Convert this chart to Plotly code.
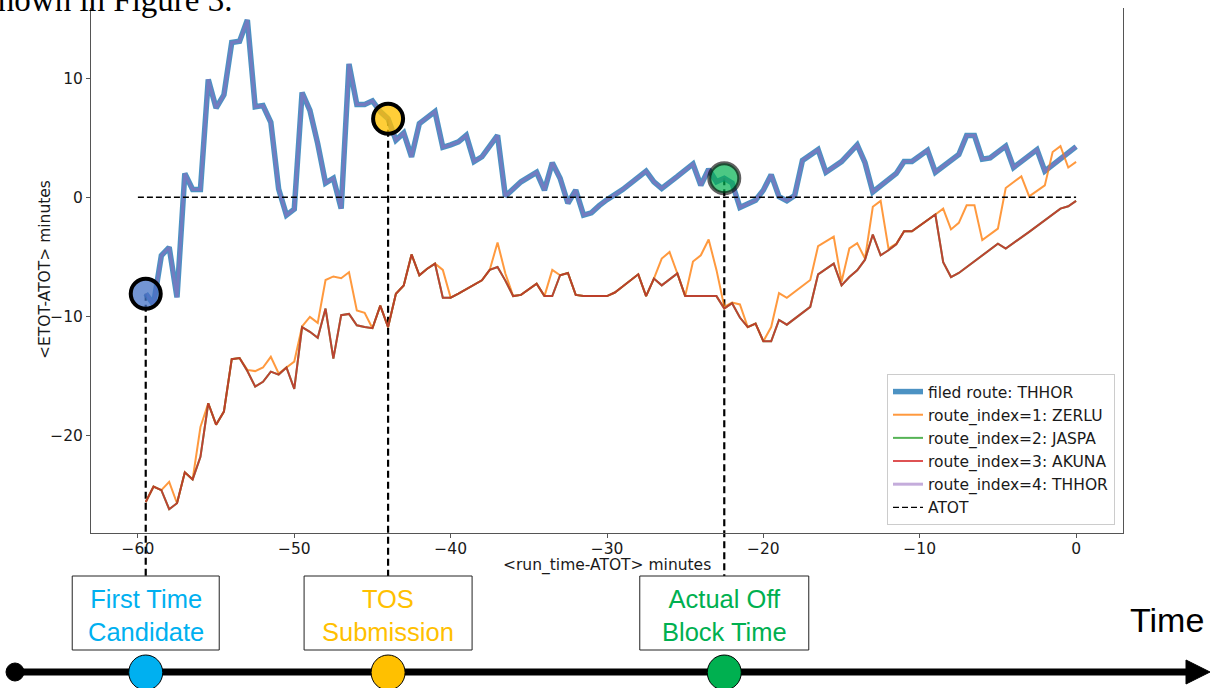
import plotly.graph_objects as go

# ---------------------------------------------------------------------------
# ETOT - ATOT (minutes) as a function of run time relative to ATOT (minutes)
# ---------------------------------------------------------------------------

# filed route THHOR
filed_t = [-59.5, -59, -58.5, -58, -57.5, -57, -56.5, -56, -55.5, -55, -54.5, -54,
           -53.5, -53, -52.5, -52, -51.5, -51, -50.5, -50, -49.5, -49, -48.5, -48,
           -47.5, -47, -46.5, -46, -45.5, -45, -44.5, -44, -43.5, -43, -42.5, -42,
           -41, -40.5, -40, -39.5, -39, -38.5, -38, -37, -36.5, -35.5, -34.5, -34,
           -33.5, -33, -32.5, -32, -31.5, -31, -30.5, -30, -29, -27.5, -27, -26.5,
           -25.5, -24.5, -24, -23.5, -23, -22.5, -22, -21.5, -20.5, -20, -19.5, -19,
           -18.5, -18, -17.5, -16.5, -16, -15, -14, -13.5, -13, -11.5, -11, -10.5,
           -9.5, -9, -7.5, -7, -6.5, -6, -5.5, -4.5, -4, -2.5, -2, 0]
filed_v = [-8.1, -9.0, -4.9, -4.2, -8.4, 2.0, 0.65, 0.65, 9.9, 7.5, 8.6, 13.0,
           13.1, 14.9, 7.6, 7.7, 6.3, 0.7, -1.5, -1.0, 8.8, 7.3, 4.5, 1.2,
           1.6, -0.95, 11.2, 7.8, 7.8, 8.1, 7.2, 6.6, 4.8, 5.4, 3.4, 6.2,
           7.2, 4.2, 4.4, 4.65, 5.2, 3.0, 3.4, 5.2, 0.1, 1.3, 2.1, 0.6,
           2.9, 1.6, -0.5, 0.6, -1.5, -1.3, -0.7, -0.2, 0.65, 2.2, 1.3, 0.75,
           1.75, 2.8, 1.0, 2.35, 1.3, 1.6, 1.2, -0.85, -0.25, 0.6, 1.9, 0.05,
           -0.3, 0.15, 3.1, 4.0, 2.1, 3.0, 4.4, 2.9, 0.45, 2.0, 3.0, 3.0,
           3.95, 2.1, 3.6, 5.2, 5.2, 3.2, 3.3, 4.3, 2.5, 4.0, 2.2, 4.25]

# route_index=1: ZERLU
zerlu_t = [-59.5, -59, -58.5, -58, -57.5, -57, -56.5, -56, -55.5, -55, -54.5, -54,
           -53.5, -53, -52.5, -52, -51.5, -51, -50.5, -50, -49.5, -49, -48.5, -48,
           -47.5, -47, -46.5, -46, -45.5, -45, -44.5, -44, -43.5, -43, -42.5, -42,
           -41.5, -41, -40.5, -40, -39.5, -39, -38.5, -38, -37.5, -37, -36.5, -36,
           -35.5, -35, -34.5, -34, -33.5, -33, -32.5, -32, -31.5, -30, -29.5, -29,
           -28.5, -28, -27.5, -27, -26.5, -26, -25.5, -25, -24.5, -24, -23.5, -23,
           -22.5, -22, -21.5, -21, -20.5, -20, -19.5, -19, -18.5, -17, -16.5, -15.5,
           -15, -14.5, -14, -13.5, -13, -12.5, -12, -11.5, -11, -10.5, -9, -8.5,
           -8, -7.5, -7, -6.5, -6, -5, -4.5, -3.5, -3, -2, -1.5, -1,
           -0.5, 0]
zerlu_v = [-25.6, -24.3, -24.6, -23.9, -25.7, -23.1, -23.7, -19.3, -17.3, -19.1, -18.0, -13.6,
           -13.5, -14.5, -14.6, -14.3, -13.4, -14.8, -14.3, -13.8, -10.85, -10.05, -10.55, -6.95,
           -6.65, -6.8, -6.3, -9.5, -9.7, -11.0, -9.1, -10.9, -8.1, -7.4, -4.8, -6.55,
           -6.0, -5.57, -6.1, -8.43, -8.1, -7.7, -7.35, -6.97, -6.1, -3.8, -6.4, -8.3,
           -8.2, -7.7, -7.25, -8.3, -6.1, -6.55, -6.36, -8.2, -8.3, -8.3, -8.0, -7.5,
           -7.0, -6.47, -8.3, -6.83, -5.15, -4.6, -6.4, -8.3, -5.4, -4.87, -3.55, -6.1,
           -9.2, -8.85, -9.0, -10.9, -10.6, -12.1, -10.9, -8.05, -8.45, -6.95, -4.1, -3.3,
           -7.1, -4.3, -3.85, -5.15, -0.8, -0.3, -4.3, -3.9, -2.86, -2.86, -1.45, -0.95,
           -2.7, -2.15, -0.67, -0.67, -3.6, -2.63, 0.78, 1.76, 0.08, 1.0, 3.8, 4.3,
           2.5, 2.97]

# route_index=3: AKUNA
akuna_t = [-59.5, -59, -58.5, -58, -57.5, -57, -56.5, -56, -55.5, -55, -54.5, -54,
           -53.5, -53, -52.5, -52, -51.5, -51, -50.5, -50, -49.5, -49, -48.5, -48,
           -47.5, -47, -46.5, -46, -45.5, -45, -44.5, -44, -43.5, -43, -42.5, -42,
           -41.5, -41, -40.5, -40, -39.5, -39, -38.5, -38, -37.5, -37, -36.5, -36,
           -35.5, -35, -34.5, -34, -33.5, -33, -32.5, -32, -31.5, -30, -29.5, -29,
           -28.5, -28, -27.5, -27, -26.5, -25.5, -25, -23, -22.5, -22, -21.5, -21,
           -20.5, -20, -19.5, -19, -18.5, -17, -16.5, -15.5, -15, -14.5, -14, -13.5,
           -13, -12.5, -12, -11.5, -11, -10.5, -9, -8.5, -8, -7.5, -5, -4.5,
           -3, -2, -1, -0.5, 0]
akuna_v = [-25.6, -24.3, -24.6, -26.2, -25.7, -23.1, -23.7, -21.8, -17.3, -19.1, -18.0, -13.6,
           -13.5, -14.6, -15.9, -15.5, -14.65, -14.9, -14.3, -16.1, -10.9, -11.3, -11.8, -9.35,
           -13.55, -9.9, -9.8, -10.75, -10.9, -11.0, -9.1, -10.9, -8.1, -7.4, -4.8, -6.55,
           -6.0, -5.57, -8.43, -8.43, -8.1, -7.7, -7.35, -6.97, -6.1, -5.86, -7.0, -8.3,
           -8.2, -7.7, -7.25, -8.3, -8.3, -6.55, -6.36, -8.2, -8.3, -8.3, -8.0, -7.5,
           -7.0, -6.47, -8.3, -6.83, -7.4, -6.4, -8.3, -8.3, -9.35, -8.9, -10.1, -10.9,
           -10.6, -12.1, -12.1, -10.3, -10.7, -9.2, -6.47, -5.57, -7.4, -6.7, -6.13, -5.24,
           -3.13, -4.87, -4.45, -3.95, -2.86, -2.86, -1.45, -5.45, -6.7, -6.36, -3.9, -4.3,
           -2.9, -1.93, -0.95, -0.76, -0.3]

# route_index=2: JASPA gives the same estimates as AKUNA
jaspa_t = list(akuna_t)
jaspa_v = list(akuna_v)

# route_index=4: THHOR is the filed route
thhor_t = list(filed_t)
thhor_v = list(filed_v)

# ATOT reference
atot_t = [-60, 0]
atot_v = [0, 0]

# milestones along the filed-route curve
event_labels = ["First Time<br>Candidate", "TOS<br>Submission", "Actual Off<br>Block Time"]
event_t = [-59.5, -44.0, -22.5]
event_v = [filed_v[filed_t.index(t)] for t in event_t]
event_fill = ["rgba(68,114,196,0.75)", "rgba(255,192,0,0.78)", "rgba(0,176,80,0.7)"]
event_edge = ["black", "black", "rgba(0,0,0,0.62)"]
event_colors = ["#00B0F0", "#FFC000", "#00B050"]

# ---------------------------------------------------------------------------
W, H = 1211, 688
ML, MR, MT, MB = 91, 88, 8, 155
PW, PH = W - ML - MR, H - MT - MB
XR = [-63, 3]
YR = [-28.2, 15.9]


def xp(t):
    """data x -> paper x"""
    return (t - XR[0]) / (XR[1] - XR[0])


def yp(v):
    """data y -> paper y"""
    return (v - YR[0]) / (YR[1] - YR[0])


def px(dx):
    """pixel column -> paper x"""
    return (dx - ML) / PW


def py(dy):
    """pixel row -> paper y"""
    return (H - MB - dy) / PH


fig = go.Figure()

fig.add_trace(go.Scatter(x=filed_t, y=filed_v, mode="lines", name="filed route: THHOR",
                         line=dict(color="rgba(31,119,180,0.8)", width=5.5)))
fig.add_trace(go.Scatter(x=zerlu_t, y=zerlu_v, mode="lines", name="route_index=1: ZERLU",
                         line=dict(color="rgba(255,127,14,0.8)", width=2)))
fig.add_trace(go.Scatter(x=jaspa_t, y=jaspa_v, mode="lines", name="route_index=2: JASPA",
                         line=dict(color="rgba(44,160,44,0.8)", width=2)))
fig.add_trace(go.Scatter(x=akuna_t, y=akuna_v, mode="lines", name="route_index=3: AKUNA",
                         line=dict(color="rgba(214,39,40,0.8)", width=2)))
fig.add_trace(go.Scatter(x=thhor_t, y=thhor_v, mode="lines", name="route_index=4: THHOR",
                         line=dict(color="rgba(148,103,189,0.55)", width=3)))
fig.add_trace(go.Scatter(x=atot_t, y=atot_v, mode="lines", name="ATOT",
                         line=dict(color="black", width=1.4, dash="6px,3px")))
fig.add_trace(go.Scatter(x=event_t, y=event_v, mode="markers", showlegend=False,
                         marker=dict(size=30, color=event_fill,
                                     line=dict(color=event_edge, width=4))))

shapes = []
annotations = []

BOX_TOP, BOX_BOT = 576, 650
TL_Y = 672
box_half = [73.5, 84, 84.5]

for lab, t, v, col, hw in zip(event_labels, event_t, event_v, event_colors, box_half):
    # drop line from the curve to the label box
    shapes.append(dict(type="line", xref="paper", yref="paper", layer="below",
                       x0=xp(t), x1=xp(t), y0=yp(v), y1=py(BOX_TOP),
                       line=dict(color="black", width=2.2, dash="7px,4px")))
    # label box
    shapes.append(dict(type="rect", xref="paper", yref="paper",
                       x0=xp(t) - hw / PW, x1=xp(t) + hw / PW,
                       y0=py(BOX_BOT), y1=py(BOX_TOP),
                       line=dict(color="#222222", width=1), fillcolor="white"))
    annotations.append(dict(xref="paper", yref="paper", x=xp(t), y=py((BOX_TOP + BOX_BOT) / 2 + 2),
                            text=lab, showarrow=False, xanchor="center", yanchor="middle",
                            font=dict(family="Liberation Sans", size=25.5, color=col)))

# timeline axis with arrow head
shapes.append(dict(type="line", xref="paper", yref="paper",
                   x0=px(15), x1=px(1192), y0=py(TL_Y), y1=py(TL_Y),
                   line=dict(color="black", width=7)))
arrow = "M {a},{b} L {c},{d} L {a},{e} Z".format(
    a=px(1186), b=py(TL_Y - 12), c=px(1210), d=py(TL_Y), e=py(TL_Y + 12))
shapes.append(dict(type="path", xref="paper", yref="paper", path=arrow,
                   fillcolor="black", line=dict(color="black", width=1)))
shapes.append(dict(type="circle", xref="paper", yref="paper",
                   x0=px(6), x1=px(24), y0=py(TL_Y + 9), y1=py(TL_Y - 9),
                   fillcolor="black", line=dict(color="black", width=1)))
for t, col in zip(event_t, event_colors):
    shapes.append(dict(type="circle", xref="paper", yref="paper",
                       x0=xp(t) - 17 / PW, x1=xp(t) + 17 / PW,
                       y0=py(TL_Y + 18), y1=py(TL_Y - 17),
                       fillcolor=col, line=dict(color="black", width=1)))

annotations.append(dict(xref="paper", yref="paper", x=px(1167), y=py(620),
                        text="Time", showarrow=False, xanchor="center", yanchor="middle",
                        font=dict(family="Liberation Sans", size=34, color="black")))

# running text of the surrounding page
annotations.append(dict(xref="paper", yref="paper", x=px(-17), y=py(0),
                        text="shown in Figure 3.", showarrow=False,
                        xanchor="left", yanchor="middle",
                        font=dict(family="Liberation Serif", size=33, color="black")))

axis_font = dict(family="DejaVu Sans", size=15.5, color="#1a1a1a")

# axis titles
annotations.append(dict(xref="paper", yref="paper", x=0.5, y=py(565),
                        text="&lt;run_time-ATOT&gt; minutes", showarrow=False,
                        xanchor="center", yanchor="middle", font=axis_font))
annotations.append(dict(xref="paper", yref="paper", x=px(45), y=py(270),
                        text="&lt;ETOT-ATOT&gt; minutes", showarrow=False, textangle=-90,
                        xanchor="center", yanchor="middle", font=axis_font))

fig.update_layout(
    width=W, height=H,
    margin=dict(l=ML, r=MR, t=MT, b=MB),
    paper_bgcolor="white", plot_bgcolor="white",
    showlegend=True,
    legend=dict(x=px(1115), y=py(525), xanchor="right", yanchor="bottom",
                bgcolor="white", bordercolor="#cccccc", borderwidth=1,
                font=dict(family="DejaVu Sans", size=15.5, color="#1a1a1a"),
                itemwidth=30, tracegroupgap=0),
    shapes=shapes,
    annotations=annotations,
    xaxis=dict(range=XR, tickmode="array", tickvals=[-60, -50, -40, -30, -20, -10, 0],
               showgrid=False, zeroline=False, showline=True, linecolor="#555555",
               linewidth=1, mirror=False, ticks="outside", ticklen=4, tickcolor="#555555",
               ticklabelstandoff=-3, tickfont=axis_font),
    yaxis=dict(range=YR, tickmode="array", tickvals=[-20, -10, 0, 10],
               showgrid=False, zeroline=False, showline=True, linecolor="#555555",
               linewidth=1, mirror=True, ticks="outside", ticklen=4, tickcolor="#555555",
               tickfont=axis_font),
)

fig.write_html("out.html", config={"displayModeBar": False})
